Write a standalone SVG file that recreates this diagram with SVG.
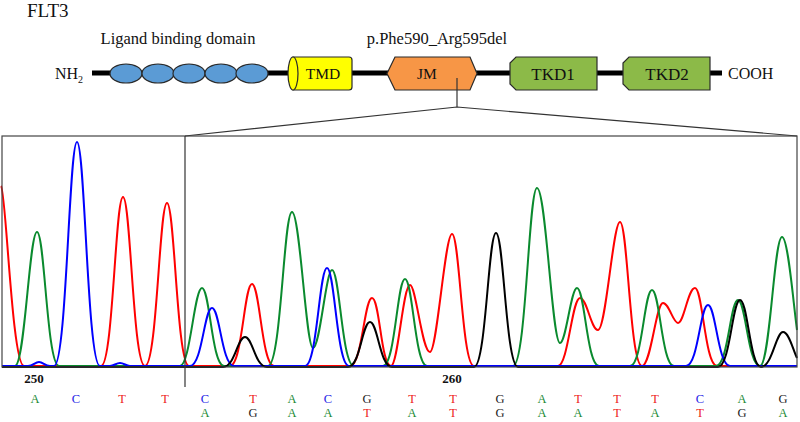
<svg xmlns="http://www.w3.org/2000/svg" width="800" height="422" viewBox="0 0 800 422">
<style>
text{font-family:"Liberation Serif","Times New Roman",serif;fill:#111}
.dom{stroke:#2a2a2a;stroke-width:1.2}
.lbl{text-anchor:middle}
.tr{fill:none;stroke-width:2;stroke-linejoin:round}
.b{text-anchor:middle;font-size:12.5px}
.A{fill:#1a8a35}.C{fill:#1e1ee6}.T{fill:#ee1c1c}.G{fill:#222}
.frame{fill:none;stroke:#444;stroke-width:1.2}
</style>
<rect width="800" height="422" fill="#fff"/>
<text x="27" y="17" font-size="19">FLT3</text>
<text x="178" y="44" font-size="16.5" class="lbl">Ligand binding domain</text>
<text x="437" y="44" font-size="16.5" class="lbl">p.Phe590_Arg595del</text>
<g id="backbone">
<line x1="92" y1="73" x2="722" y2="73" stroke="#000" stroke-width="5"/>
</g>
<text x="55" y="79" font-size="16">NH<tspan font-size="10" dy="4">2</tspan></text>
<text x="728" y="79" font-size="16">COOH</text>
<g id="ligand">
<ellipse cx="126" cy="73.5" rx="16" ry="9.5" fill="#5b9bd5" class="dom"/>
<ellipse cx="158" cy="73.5" rx="16" ry="9.5" fill="#5b9bd5" class="dom"/>
<ellipse cx="189" cy="73.5" rx="16" ry="9.5" fill="#5b9bd5" class="dom"/>
<ellipse cx="221" cy="73.5" rx="16" ry="9.5" fill="#5b9bd5" class="dom"/>
<ellipse cx="252" cy="73.5" rx="16" ry="9.5" fill="#5b9bd5" class="dom"/>
</g>
<g id="tmd">
<path d="M293,57 L349,57 Q352,57 352,60 L352,87 Q352,90 349,90 L293,90 Z" fill="#ffff00" class="dom"/>
<ellipse cx="293" cy="73.5" rx="5" ry="16.5" fill="#ffff00" class="dom"/>
<text x="323" y="79" font-size="15.5" class="lbl">TMD</text>
</g>
<g id="jm">
<polygon points="387,73.5 395,57 470,57 477,73.5 470,90 395,90" fill="#f79646" class="dom"/>
<text x="427" y="79" font-size="15.5" class="lbl">JM</text>
</g>
<g id="tkd1">
<polygon points="516,57 597,57 597,90 516,90 510,84 510,63" fill="#8cba48" class="dom"/>
<text x="553" y="80" font-size="17" class="lbl">TKD1</text>
</g>
<g id="tkd2">
<polygon points="629,57 710,57 710,90 629,90 623,84 623,63" fill="#8cba48" class="dom"/>
<text x="667" y="80" font-size="17" class="lbl">TKD2</text>
</g>
<g id="connectors">
<line x1="457" y1="78" x2="457" y2="107" stroke="#333" stroke-width="1.2"/>
<polyline points="185,136 457,107 797,136" fill="none" stroke="#333" stroke-width="1.2"/>
</g>
<g id="chromatogram">
<path class="tr" stroke="#ff0000" d="M1,186 C6,190 12,366 24,366 L101,366 C113.1,366 115.3,197 123,197 C130.7,197 132.9,366 145,366 C157.1,366 159.3,203 167,203 C174.7,203 176.9,366 189,366 L230,366 C242.1,366 244.3,284 252,284 C259.7,284 261.9,366 274,366 L350,366 C362.1,366 364.3,298 372,298 C379.7,298 381,366 391,366 C398,366 403,285 410,285 C416,285 422,352 430,352 C437,352 445,234 452,234 C459.7,234 461.9,366 474,366 L558,366 C568,366 572,298 580,298 C587,298 591,330 598,330 C606,330 613,222 620,222 C627.7,222 630,366 642,366 C651,366 656,303 663,303 C669,303 673,323 678,323 C684,323 688,288 695,288 C702.7,288 705,366 717,366 L797,366"/>
<path class="tr" stroke="#0a8a2e" d="M2,366 L15,366 C24.9,366 29.3,232 37,232 C44.7,232 46.9,366 59,366 L180,366 C190.1,366 194.3,288 202,288 C209.7,288 211.9,366 224,366 L268,366 C281.2,366 283.6,212 292,212 C300,212 306,348 313,348 C320,348 326,270 332,270 C339.7,270 341.9,366 354,366 L383,366 C395.1,366 397.3,279 405,279 C412.7,279 414.9,366 427,366 L513,366 C526.2,366 528.6,188 537,188 C546,188 552,343 560,343 C566,343 571,288 577,288 C584.7,288 586.9,366 599,366 L630,366 C642.1,366 644.3,290 652,290 C659.7,290 661.9,366 674,366 L716,366 C728.1,366 730.3,300 738,300 C745.7,300 748,366 760,366 C770,366 774,237 782,237 C788,237 793,300 797,330"/>
<path class="tr" stroke="#0000ff" d="M2,366 L28,366 C33,366 35,362 39,362 C43,362 45,366 50,366 L54,366 C66.7,366 69,142 77,142 C85,142 87.3,366 100,366 L110,366 C114,366 116,363 120,363 C124,363 126,366 130,366 L190,366 C202.1,366 204.3,308 212,308 C219.7,308 221.9,366 234,366 L305,366 C317.1,366 319.3,268 327,268 C334.7,268 336.9,366 349,366 L686,366 C698.1,366 700.3,305 708,305 C715.7,305 717.9,366 730,366 L797,366"/>
<path class="tr" stroke="#000" d="M2,367 L223,367 C235.1,367 237.3,337 245,337 C252.7,337 254.9,367 267,367 L348,367 C360.1,367 362.3,322 370,322 C377.7,322 379.9,367 392,367 L474,367 C486.1,367 488.3,233 496,233 C503.7,233 505.9,367 518,367 L718,367 C730.1,367 732.3,300 740,300 C747.7,300 750,367 761,367 C772,367 776,332 783,332 C789,332 793,350 797,358"/>
<rect x="2" y="136" width="795" height="231" class="frame"/>
<line x1="185" y1="136" x2="185" y2="387" stroke="#333" stroke-width="1.2"/>
<text x="34" y="383" font-size="13" font-weight="bold" class="lbl">250</text>
<text x="452" y="383" font-size="13" font-weight="bold" class="lbl">260</text>
</g>
<g id="seq1">
<text class="b A" x="35" y="403">A</text>
<text class="b C" x="76" y="403">C</text>
<text class="b T" x="122" y="403">T</text>
<text class="b T" x="165" y="403">T</text>
<text class="b C" x="205" y="403">C</text>
<text class="b T" x="253" y="403">T</text>
<text class="b A" x="292" y="403">A</text>
<text class="b C" x="328" y="403">C</text>
<text class="b G" x="367" y="403">G</text>
<text class="b T" x="412" y="403">T</text>
<text class="b T" x="453" y="403">T</text>
<text class="b G" x="500" y="403">G</text>
<text class="b A" x="542" y="403">A</text>
<text class="b T" x="578" y="403">T</text>
<text class="b T" x="617" y="403">T</text>
<text class="b T" x="655" y="403">T</text>
<text class="b C" x="700" y="403">C</text>
<text class="b A" x="742" y="403">A</text>
<text class="b G" x="783" y="403">G</text>
</g>
<g id="seq2">
<text class="b A" x="205" y="417">A</text>
<text class="b G" x="253" y="417">G</text>
<text class="b A" x="292" y="417">A</text>
<text class="b A" x="328" y="417">A</text>
<text class="b T" x="367" y="417">T</text>
<text class="b A" x="412" y="417">A</text>
<text class="b T" x="453" y="417">T</text>
<text class="b G" x="500" y="417">G</text>
<text class="b A" x="542" y="417">A</text>
<text class="b A" x="578" y="417">A</text>
<text class="b T" x="617" y="417">T</text>
<text class="b A" x="655" y="417">A</text>
<text class="b T" x="700" y="417">T</text>
<text class="b G" x="742" y="417">G</text>
<text class="b A" x="783" y="417">A</text>
</g>
</svg>
